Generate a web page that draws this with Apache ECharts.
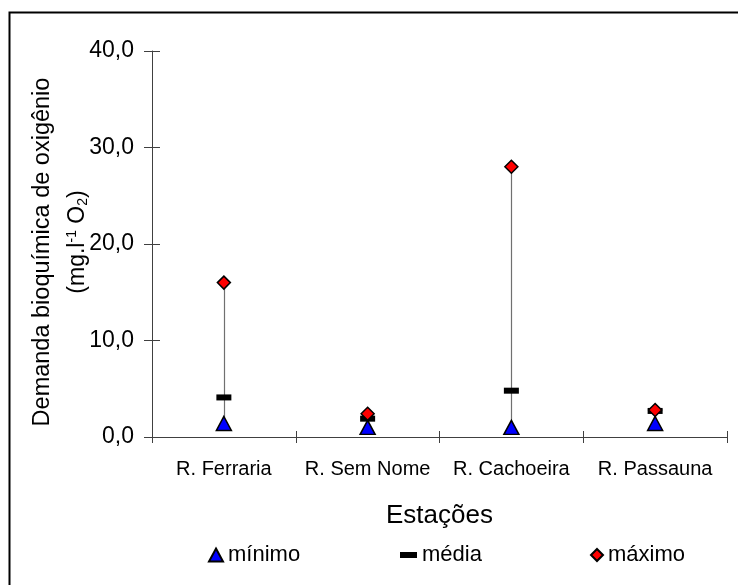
<!DOCTYPE html>
<html>
<head>
<meta charset="utf-8">
<script src="https://cdn.jsdelivr.net/npm/echarts@6/dist/echarts.min.js"></script>
<style>
  html, body { margin: 0; padding: 0; background: #fff; }
  #chart { width: 738px; height: 585px; }
</style>
</head>
<body>
<div id="chart"></div>
<script>
// Estações de coleta
const estacoes = ['R. Ferraria', 'R. Sem Nome', 'R. Cachoeira', 'R. Passauna'];
// DBO (mg.l-1 O2) por estação
const minimo = [1.4, 1.0, 1.0, 1.4];
const media  = [4.1, 1.9, 4.8, 2.7];
const maximo = [16.0, 2.4, 28.0, 2.8];
// Eixo Y
const yMin = 0, yMax = 40, yStep = 10;

const FONT = '"Liberation Sans", Arial, sans-serif';
const fmt = v => v.toFixed(1).replace('.', ',');
const AXIS = '#404040';

const chart = echarts.init(document.getElementById('chart'));

// Linha vertical entre o mínimo e o máximo de cada estação
const faixa = estacoes.map((c, i) => [i, minimo[i], maximo[i]]);

chart.setOption({
  animation: false,
  backgroundColor: '#fff',
  grid: { left: 152, right: 11, top: 51, bottom: 148, containLabel: false },
  xAxis: [{
    type: 'category',
    data: estacoes,
    boundaryGap: true,
    name: 'Estações',
    nameLocation: 'middle',
    nameGap: 66,
    nameTextStyle: { fontFamily: FONT, fontSize: 26, color: '#000' },
    axisLine: { lineStyle: { color: AXIS, width: 1 } },
    axisTick: { show: true, length: 6, inside: false, lineStyle: { color: AXIS } },
    axisLabel: { fontFamily: FONT, fontSize: 20, color: '#000', margin: 22, interval: 0 },
    splitLine: { show: false }
  }, {
    type: 'category',
    data: estacoes,
    position: 'bottom',
    boundaryGap: true,
    axisLine: { show: false },
    axisTick: { show: true, length: 6, inside: true, lineStyle: { color: AXIS } },
    axisLabel: { show: false },
    splitLine: { show: false }
  }],
  yAxis: [{
    type: 'value',
    min: yMin, max: yMax, interval: yStep,
    axisLine: { show: true, lineStyle: { color: AXIS, width: 1 } },
    axisTick: { show: true, length: 8, lineStyle: { color: AXIS } },
    axisLabel: { fontFamily: FONT, fontSize: 23, color: '#000', margin: 18, formatter: fmt },
    splitLine: { show: false }
  }, {
    type: 'value',
    position: 'left',
    min: yMin, max: yMax, interval: yStep,
    axisLine: { show: false },
    axisTick: { show: true, inside: true, length: 8, lineStyle: { color: AXIS } },
    axisLabel: { show: false },
    splitLine: { show: false }
  }],
  legend: [
    { data: ['mínimo'], left: 203, top: 539, itemWidth: 14, itemHeight: 13,
      textStyle: { fontFamily: FONT, fontSize: 22, color: '#000' } },
    { data: ['média'], left: 395, top: 539, itemWidth: 17, itemHeight: 6,
      textStyle: { fontFamily: FONT, fontSize: 22, color: '#000' } },
    { data: ['máximo'], left: 585, top: 539, itemWidth: 12, itemHeight: 12,
      textStyle: { fontFamily: FONT, fontSize: 22, color: '#000' } }
  ],
  graphic: [
    { type: 'rect', silent: true, z: 100,
      shape: { x: 9.5, y: 12.5, width: 740, height: 580 },
      style: { fill: 'none', stroke: '#000', lineWidth: 2 } },
    { type: 'text', silent: true, x: 43, y: 252, rotation: Math.PI / 2,
      style: { text: 'Demanda bioquímica de oxigênio', font: '23.5px ' + FONT,
               fill: '#000', textAlign: 'center', textVerticalAlign: 'middle' } },
    { type: 'text', silent: true, x: 78, y: 242, rotation: Math.PI / 2,
      style: {
        text: '{a|(mg.l}{s|-1}{a| O}{b|2}{a|)}',
        textAlign: 'center', textVerticalAlign: 'middle',
        rich: {
          a: { fontFamily: FONT, fontSize: 23, color: '#000' },
          s: { fontFamily: FONT, fontSize: 14, color: '#000', verticalAlign: 'top', padding: [0, 0, 11, 0] },
          b: { fontFamily: FONT, fontSize: 14, color: '#000', verticalAlign: 'bottom', padding: [11, 0, 0, 0] }
        }
      } }
  ],
  series: [
    {
      name: 'faixa',
      type: 'custom',
      data: faixa,
      z: 1,
      renderItem: (params, api) => {
        const lo = api.coord([api.value(0), api.value(1)]);
        const hi = api.coord([api.value(0), api.value(2)]);
        return {
          type: 'line',
          shape: { x1: Math.round(lo[0]) + 0.5, y1: lo[1], x2: Math.round(hi[0]) + 0.5, y2: hi[1] },
          style: { stroke: '#707070', lineWidth: 1.2 }
        };
      }
    },
    {
      name: 'mínimo', type: 'scatter', data: minimo, z: 4,
      symbol: 'triangle', symbolSize: [15, 14],
      itemStyle: { color: '#0000ff', borderColor: '#000', borderWidth: 1.5, opacity: 1 }
    },
    {
      name: 'média', type: 'scatter', data: media, z: 3,
      symbol: 'rect', symbolSize: [15, 6],
      itemStyle: { color: '#000', borderWidth: 0, opacity: 1 }
    },
    {
      name: 'máximo', type: 'scatter', data: maximo, z: 5,
      symbol: 'diamond', symbolSize: [13, 13],
      itemStyle: { color: '#ff0000', borderColor: '#000', borderWidth: 1.5, opacity: 1 }
    }
  ]
});
</script>
</body>
</html>
